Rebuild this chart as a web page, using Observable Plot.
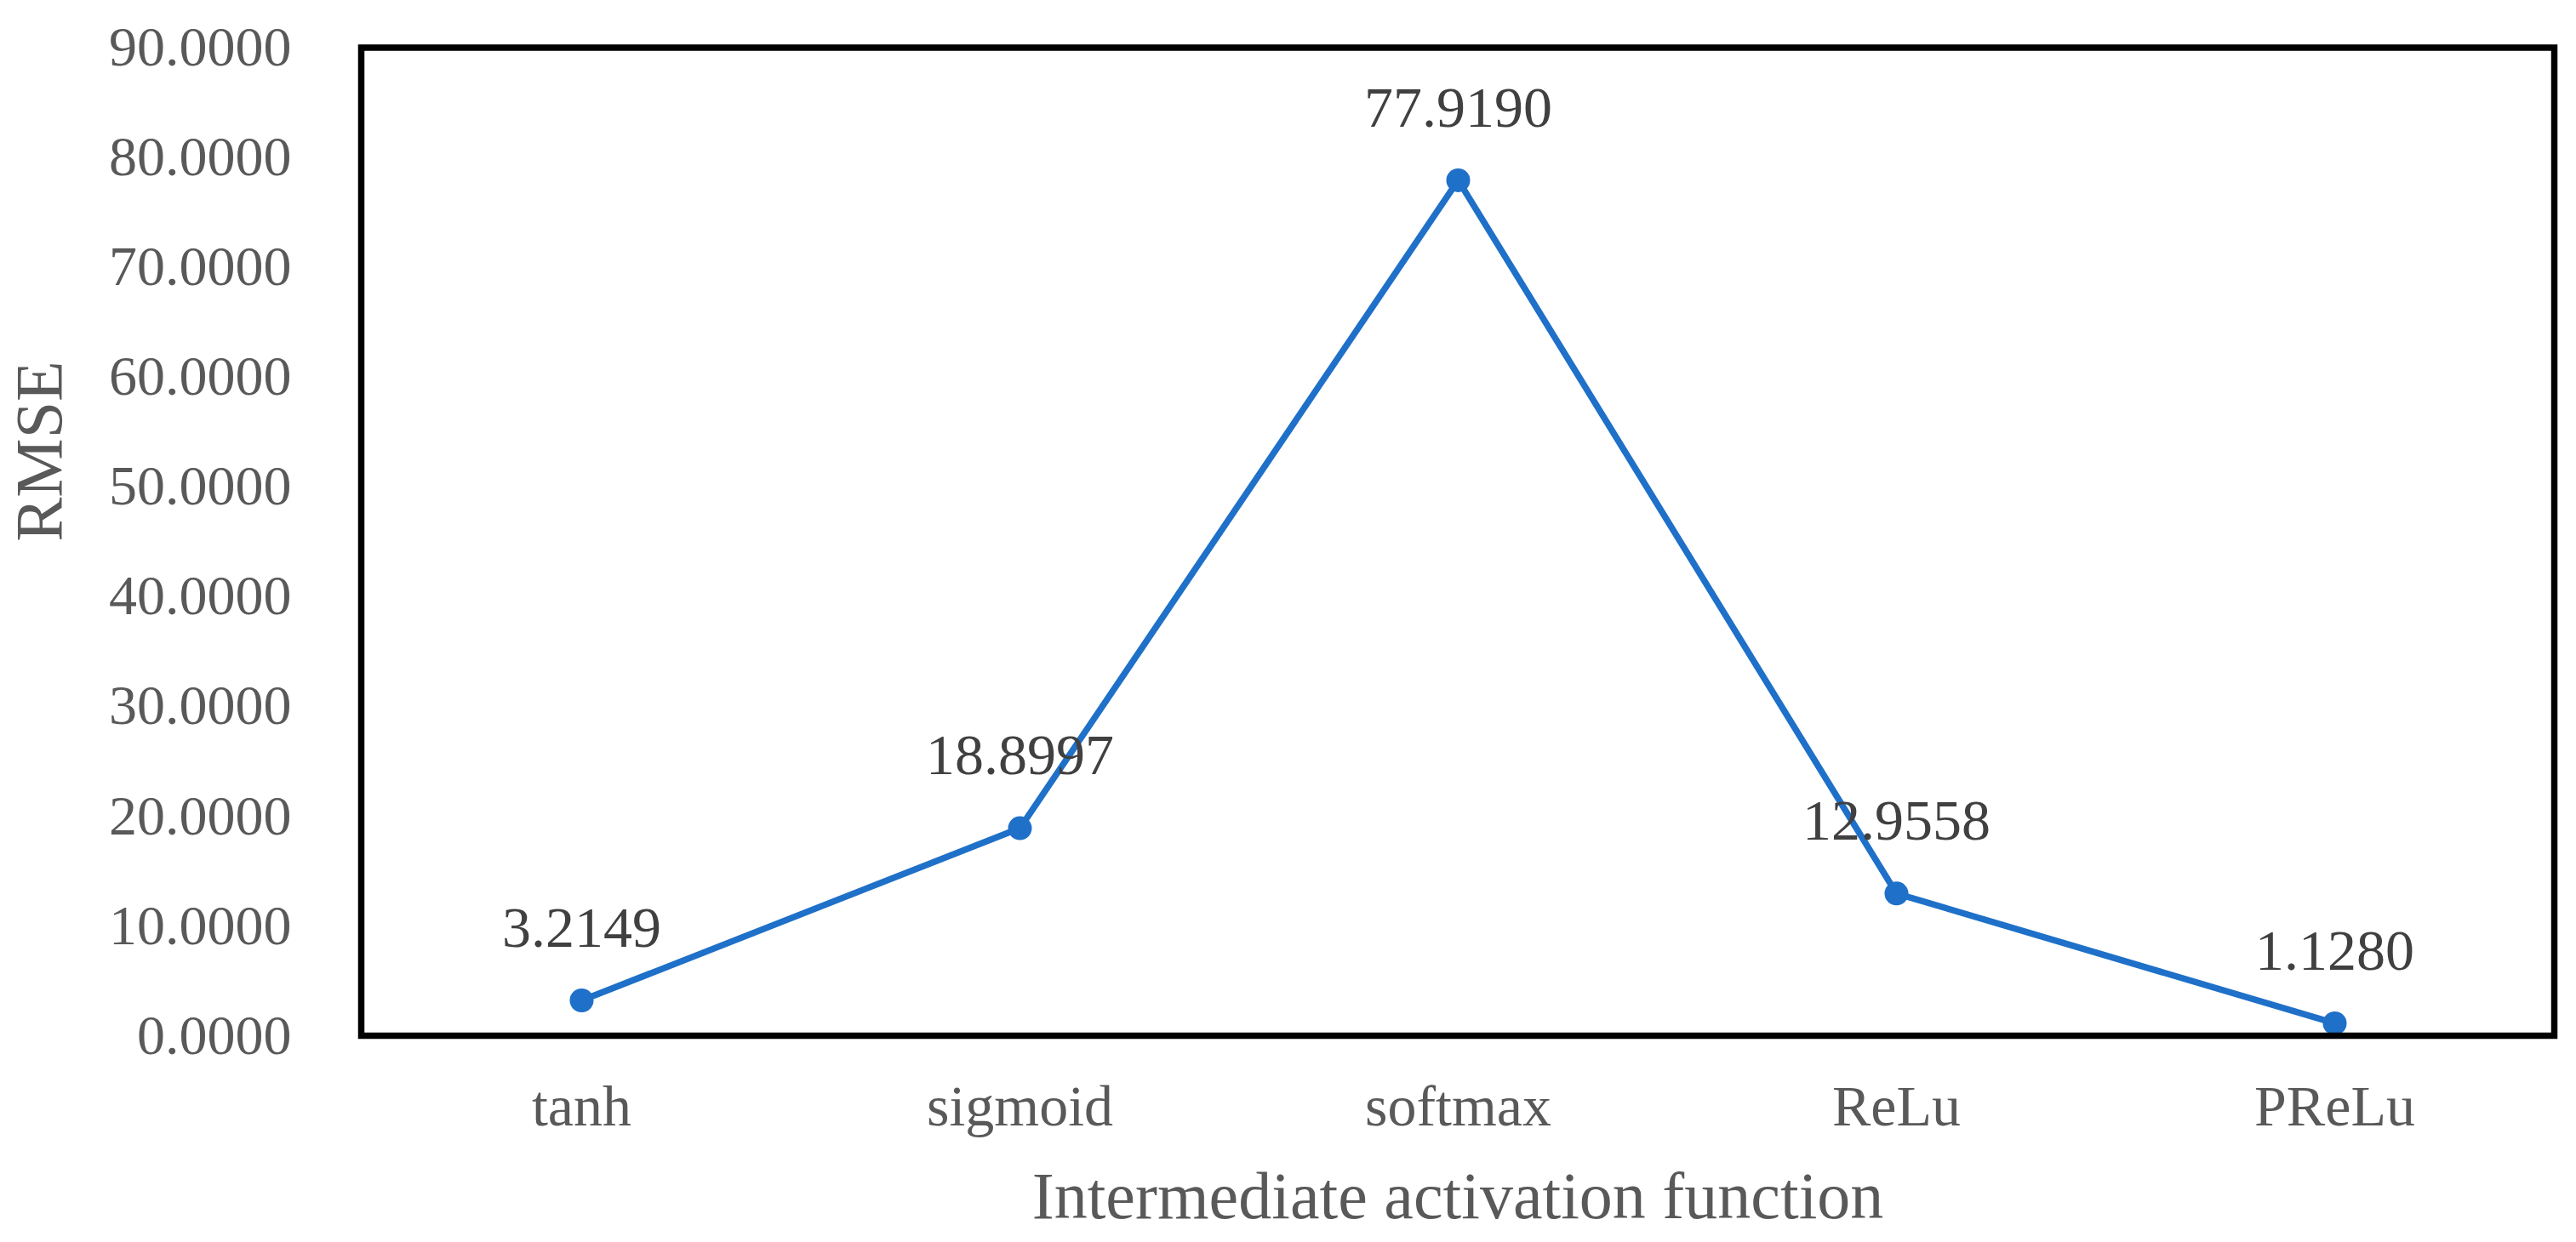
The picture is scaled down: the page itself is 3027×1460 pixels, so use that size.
<!DOCTYPE html>
<html>
<head>
<meta charset="utf-8">
<script src="https://cdn.jsdelivr.net/npm/d3@7"></script>
<script src="https://cdn.jsdelivr.net/npm/@observablehq/plot@0.6"></script>
<style>
  html, body { margin: 0; padding: 0; background: #ffffff; overflow: hidden; }
</style>
</head>
<body>
<div id="chart"></div>
<script>
const activations = ["tanh", "sigmoid", "softmax", "ReLu", "PReLu"];
const rmseValues = [3.2149, 18.8997, 77.9190, 12.9558, 1.1280];
const yTickValues = [0, 10, 20, 30, 40, 50, 60, 70, 80, 90];
const xTitle = "Intermediate activation function";
const yTitle = "RMSE";

const data = activations.map((a, i) => ({activation: a, rmse: rmseValues[i]}));
const fmt = d3.format(".4f");
const serif = "'Liberation Serif', 'Times New Roman', Times, serif";
const blue = "#1f70c8";

const chart = Plot.plot({
  width: 3027,
  height: 1460,
  marginLeft: 424,
  marginRight: 26,
  marginTop: 55.5,
  marginBottom: 243,
  style: {fontFamily: serif, background: "#ffffff"},
  x: {type: "point", domain: activations, padding: 0.5},
  y: {domain: [0, 90]},
  marks: [
    Plot.axisY({ticks: yTickValues, tickFormat: fmt, tickSize: 0, tickPadding: 82, fontSize: 66, color: "#595959", label: null}),
    Plot.axisX({tickSize: 0, tickPadding: 57, fontSize: 68, color: "#595959", label: null}),
    Plot.text([yTitle], {frameAnchor: "left", rotate: -90, dx: -377, fontSize: 78, fill: "#595959", lineAnchor: "middle"}),
    Plot.text([xTitle], {frameAnchor: "bottom", dy: 190, fontSize: 78, fill: "#595959", lineAnchor: "middle"}),
    Plot.line(data, {x: "activation", y: "rmse", stroke: blue, strokeWidth: 7.5}),
    Plot.dot(data, {x: "activation", y: "rmse", r: 14, fill: blue, stroke: null}),
    Plot.text(data, {x: "activation", y: "rmse", text: d => fmt(d.rmse), dy: -85, fontSize: 68, fill: "#404040", lineAnchor: "middle"}),
    Plot.frame({stroke: "#000000", strokeWidth: 7.5})
  ]
});
document.getElementById("chart").appendChild(chart);
</script>
</body>
</html>
